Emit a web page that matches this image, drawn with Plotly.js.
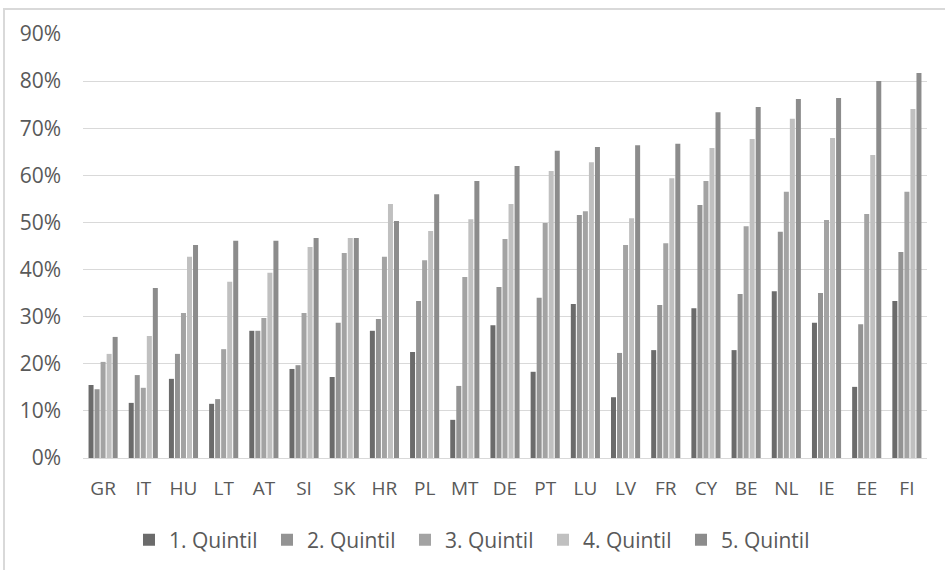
<!DOCTYPE html>
<html>
<head>
<meta charset="utf-8">
<script src="https://cdn.plot.ly/plotly-3.0.1.min.js"></script>
<style>
  html, body { margin: 0; padding: 0; background: #ffffff; overflow: hidden; }
  #wrap { position: relative; width: 945px; height: 570px; }
  #chart { position: absolute; left: 0; top: 0; width: 945px; height: 570px; }
  #frame { position: absolute; left: 3px; top: 8px; width: 960px; height: 580px;
           border: 2px solid #d9d9d9; box-sizing: border-box; pointer-events: none; }
</style>
</head>
<body>
<div id="wrap">
  <div id="chart"></div>
  <div id="frame"></div>
</div>
<script>
// Countries, ordered by the top-quintile share
const countries = ["GR","IT","HU","LT","AT","SI","SK","HR","PL","MT","DE","PT","LU","LV","FR","CY","BE","NL","IE","EE","FI"];

// Share per income quintile (fractions)
const quintil1 = [0.155,0.117,0.168,0.115,0.270,0.189,0.172,0.270,0.225,0.081,0.282,0.183,0.327,0.129,0.229,0.318,0.229,0.354,0.287,0.151,0.333];
const quintil2 = [0.146,0.176,0.221,0.125,0.270,0.197,0.287,0.295,0.333,0.153,0.363,0.340,0.516,0.223,0.325,0.537,0.348,0.480,0.350,0.284,0.437];
const quintil3 = [0.204,0.149,0.308,0.231,0.297,0.308,0.435,0.427,0.420,0.384,0.465,0.499,0.524,0.452,0.456,0.588,0.492,0.565,0.505,0.518,0.565];
const quintil4 = [0.221,0.259,0.427,0.374,0.393,0.448,0.467,0.539,0.482,0.507,0.539,0.609,0.628,0.509,0.594,0.658,0.677,0.720,0.679,0.643,0.741];
const quintil5 = [0.257,0.361,0.452,0.461,0.461,0.467,0.467,0.503,0.560,0.588,0.620,0.652,0.660,0.664,0.667,0.734,0.745,0.762,0.764,0.800,0.817];

const seriesNames = ["1. Quintil","2. Quintil","3. Quintil","4. Quintil","5. Quintil"];
const seriesValues = [quintil1, quintil2, quintil3, quintil4, quintil5];
const seriesColors = ["#6b6b6b","#939393","#a3a3a3","#c0c0c0","#8c8c8c"];

const textColor = "#595959";
const gridColor = "#d9d9d9";
const fontFamily = "'Open Sans', 'Noto Sans', sans-serif";

const traces = seriesNames.map((name, i) => ({
  type: "bar",
  name: name,
  x: countries,
  y: seriesValues[i],
  marker: { color: seriesColors[i], line: { width: 0 } },
  hoverinfo: "x+y+name"
}));

const layout = {
  width: 945,
  height: 570,
  margin: { l: 83, r: 18, t: 34, b: 112, pad: 0, autoexpand: false },
  paper_bgcolor: "rgba(0,0,0,0)",
  plot_bgcolor: "#ffffff",
  barmode: "group",
  bargap: 0.25,
  bargroupgap: 0.17,
  font: { family: fontFamily, size: 19, color: textColor },
  showlegend: true,
  legend: {
    orientation: "h",
    xref: "container",
    yref: "container",
    x: 0.1365,
    xanchor: "left",
    y: 0.0526,
    yanchor: "middle",
    font: { family: fontFamily, size: 21, color: textColor },
    entrywidth: 93,
    entrywidthmode: "pixels",
    traceorder: "normal"
  },
  xaxis: {
    type: "category",
    automargin: false,
    showgrid: false,
    showline: false,
    zeroline: false,
    ticks: "",
    ticklabelstandoff: 17,
    tickfont: { family: fontFamily, size: 19, color: textColor },
    fixedrange: true
  },
  yaxis: {
    range: [0, 0.9],
    automargin: false,
    dtick: 0.1,
    tick0: 0,
    tickformat: ".0%",
    showgrid: true,
    gridcolor: gridColor,
    gridwidth: 1,
    zeroline: true,
    zerolinecolor: gridColor,
    zerolinewidth: 1,
    showline: false,
    ticks: "",
    ticklabelstandoff: 21,
    tickfont: { family: fontFamily, size: 21, color: textColor },
    fixedrange: true
  }
};

Plotly.newPlot("chart", traces, layout, { displayModeBar: false, staticPlot: true });
</script>
</body>
</html>
